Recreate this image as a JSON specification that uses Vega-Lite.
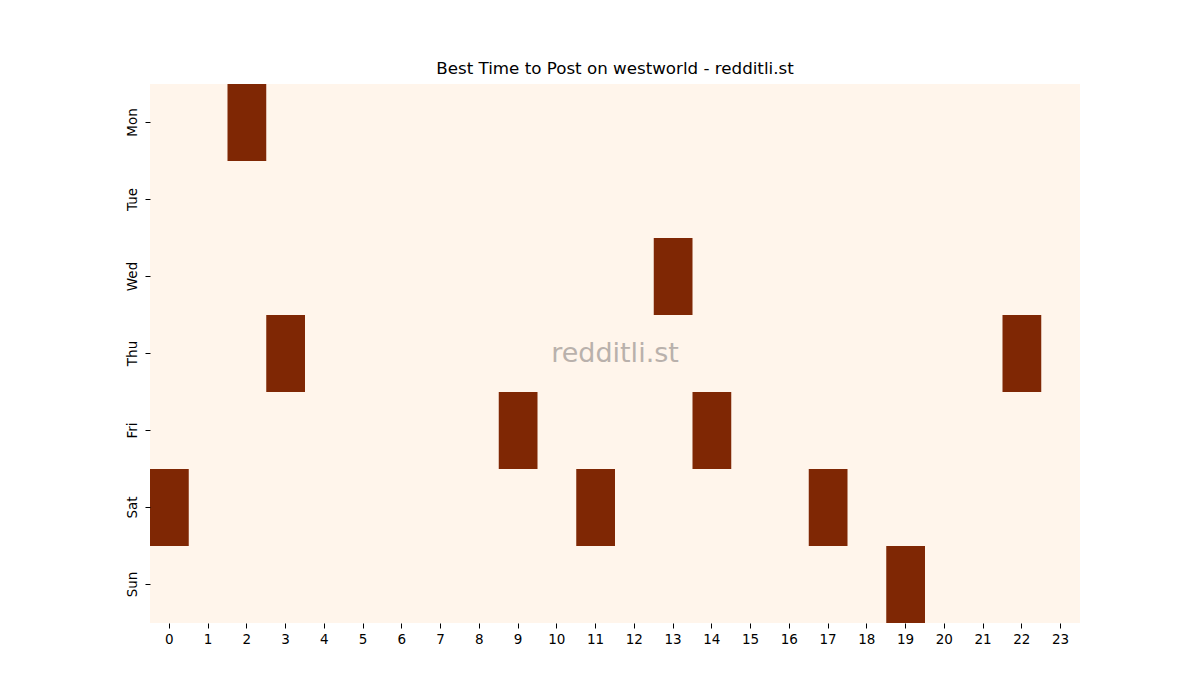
{
  "$schema": "https://vega.github.io/schema/vega-lite/v6.json",
  "autosize": {"type": "none"},
  "padding": {"left": 150, "top": 84, "right": 120, "bottom": 77},
  "width": 930,
  "height": 539,
  "background": "white",
  "config": {
    "view": {"stroke": null, "fill": "#fff5eb"},
    "font": "DejaVu Sans",
    "axis": {
      "domain": false,
      "title": null,
      "tickColor": "black",
      "tickSize": 5,
      "tickWidth": 1,
      "labelColor": "black",
      "labelFont": "DejaVu Sans",
      "labelFontSize": 13.5,
      "labelPadding": 4,
      "grid": false
    }
  },
  "title": {"text": "Best Time to Post on westworld - redditli.st", "fontSize": 16.7, "fontWeight": "normal", "font": "DejaVu Sans", "color": "black", "offset": 6},
  "datasets": {
    "cells": [
      {"day": "Mon", "hour": 2, "value": 1},
      {"day": "Wed", "hour": 13, "value": 1},
      {"day": "Thu", "hour": 3, "value": 1},
      {"day": "Thu", "hour": 22, "value": 1},
      {"day": "Fri", "hour": 9, "value": 1},
      {"day": "Fri", "hour": 14, "value": 1},
      {"day": "Sat", "hour": 0, "value": 1},
      {"day": "Sat", "hour": 11, "value": 1},
      {"day": "Sat", "hour": 17, "value": 1},
      {"day": "Sun", "hour": 19, "value": 1}
    ],
    "watermark": [
      {"day": "Thu", "hour": 12, "label": "redditli.st"}
    ]
  },
  "layer": [
    {
      "data": {"name": "cells"},
      "mark": {"type": "rect", "color": "#7f2704"},
      "encoding": {
        "x": {
          "field": "hour", "type": "ordinal",
          "scale": {"domain": [0,1,2,3,4,5,6,7,8,9,10,11,12,13,14,15,16,17,18,19,20,21,22,23], "paddingInner": 0, "paddingOuter": 0},
          "axis": {"labelAngle": 0, "orient": "bottom"}
        },
        "y": {
          "field": "day", "type": "ordinal",
          "scale": {"domain": ["Mon","Tue","Wed","Thu","Fri","Sat","Sun"], "paddingInner": 0, "paddingOuter": 0},
          "axis": {"labelAngle": -90, "labelAlign": "center", "labelBaseline": "bottom", "labelPadding": 6}
        }
      }
    },
    {
      "data": {"name": "watermark"},
      "mark": {"type": "text", "fontSize": 27, "color": "#b9b1ac", "font": "DejaVu Sans", "align": "center", "baseline": "middle"},
      "encoding": {
        "x": {"field": "hour", "type": "ordinal", "bandPosition": 0},
        "y": {"field": "day", "type": "ordinal"},
        "text": {"field": "label"}
      }
    }
  ]
}
